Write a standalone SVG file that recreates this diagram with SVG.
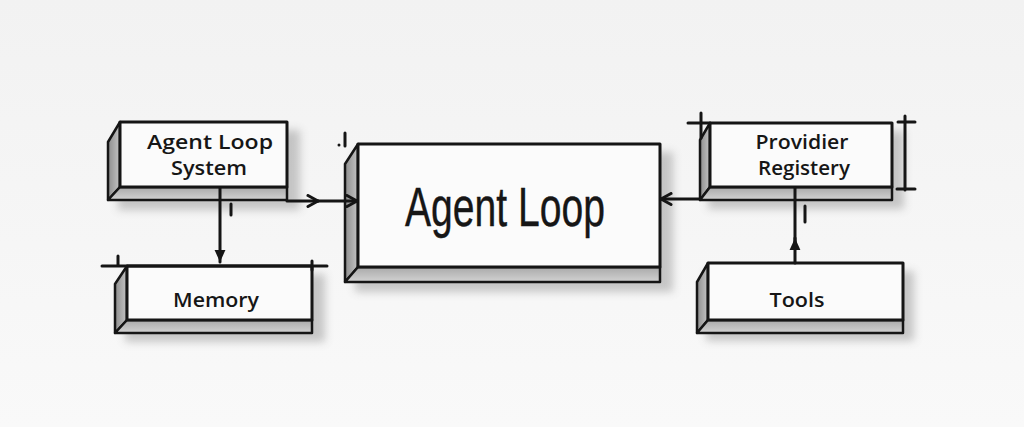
<svg xmlns="http://www.w3.org/2000/svg" width="1024" height="427" viewBox="0 0 1024 427">
<defs>
<style>
.ln{stroke:#151515;stroke-width:3;fill:none;stroke-linecap:round;stroke-linejoin:round}
.face{fill:#fbfbfb;stroke:#151515;stroke-width:3;stroke-linejoin:round}
.side{fill:url(#sideG);stroke:#151515;stroke-width:2.5;stroke-linejoin:round}
.bot{fill:url(#botG);stroke:#151515;stroke-width:2.5;stroke-linejoin:round}
.sh{fill:#8a8a8a;opacity:.45;filter:url(#blur)}
.lbl{font-family:"Open Sans","Liberation Sans",sans-serif;font-weight:600;font-size:19px;fill:#161616;text-anchor:middle}
.big{font-family:"Liberation Sans","DejaVu Sans",sans-serif;font-weight:400;font-size:55px;fill:#161616;stroke:#161616;stroke-width:0.4;text-anchor:middle}
</style>
<linearGradient id="sideG" x1="0" y1="0" x2="1" y2="0"><stop offset="0" stop-color="#8e8e8e"/><stop offset="1" stop-color="#c4c4c4"/></linearGradient>
<linearGradient id="botG" x1="0" y1="0" x2="0" y2="1"><stop offset="0" stop-color="#a9a9a9"/><stop offset="1" stop-color="#d2d2d2"/></linearGradient>
<linearGradient id="bg" x1="0" y1="0" x2="0" y2="1"><stop offset="0" stop-color="#f2f2f2"/><stop offset="1" stop-color="#f9f9f9"/></linearGradient>
<filter id="blur" x="-20%" y="-20%" width="140%" height="140%"><feGaussianBlur stdDeviation="4"/></filter>
<marker id="chev" viewBox="0 0 14 14" refX="12" refY="7" markerWidth="14" markerHeight="14" markerUnits="userSpaceOnUse" orient="auto"><path d="M2,1.5 L12,7 L2,12.5" fill="none" stroke="#151515" stroke-width="3" stroke-linecap="round" stroke-linejoin="round"/></marker>
<marker id="tri" viewBox="0 0 12 12" refX="11" refY="6" markerWidth="13" markerHeight="13" markerUnits="userSpaceOnUse" orient="auto"><path d="M0,1 L11,6 L0,11 Z" fill="#151515"/></marker>
</defs>
<rect width="1024" height="427" fill="url(#bg)"/>

<g id="agent-loop-system">
<rect class="sh" x="118" y="130" width="182" height="80"/>
<polygon class="side" points="120,122 108,142 108,200 120,187"/>
<polygon class="bot" points="120,187 287,187 287,200 108,200"/>
<rect class="face" x="120" y="122" width="167" height="65"/>
<text class="lbl" x="210" y="149" textLength="126" lengthAdjust="spacingAndGlyphs">Agent Loop</text>
<text class="lbl" x="209" y="175" textLength="76" lengthAdjust="spacingAndGlyphs">System</text>
</g>

<g id="memory">
<rect class="sh" x="125" y="274" width="200" height="68"/>
<polygon class="side" points="127,266 115,284 115,333 127,320"/>
<polygon class="bot" points="127,320 312,320 312,333 115,333"/>
<rect class="face" x="127" y="266" width="185" height="54"/>
<path class="ln" d="M102,266 L327,266 M118,256 L118,266 M312,261 L312,270" stroke-width="2.5"/>
<text class="lbl" x="216" y="307" textLength="86" lengthAdjust="spacingAndGlyphs">Memory</text>
</g>

<g id="agent-loop">
<rect class="sh" x="355" y="152" width="318" height="140"/>
<polygon class="side" points="358,144 345,164 345,282 358,267"/>
<polygon class="bot" points="358,267 660,267 660,282 345,282"/>
<rect class="face" x="358" y="144" width="302" height="123"/>
<path class="ln" d="M345,133 L345,146" stroke-width="2"/>
<circle cx="339" cy="145" r="1.5" fill="#151515"/>
<text class="big" x="505" y="226" textLength="200" lengthAdjust="spacingAndGlyphs">Agent Loop</text>
</g>

<g id="provider-registery">
<rect class="sh" x="708" y="131" width="196" height="78"/>
<polygon class="side" points="710,123 700,140 700,200 710,187"/>
<polygon class="bot" points="710,187 892,187 892,200 700,200"/>
<rect class="face" x="710" y="123" width="182" height="64"/>
<path class="ln" d="M688,123 L710,123 M701,113 L701,138 M905,116 L905,190 M898,122 L915,122 M897,189 L915,189" stroke-width="2.5"/>
<text class="lbl" x="802" y="149" textLength="93" lengthAdjust="spacingAndGlyphs">Providier</text>
<text class="lbl" x="804" y="175" textLength="92" lengthAdjust="spacingAndGlyphs">Registery</text>
</g>

<g id="tools">
<rect class="sh" x="706" y="271" width="208" height="70"/>
<polygon class="side" points="708,263 697,282 697,333 708,320"/>
<polygon class="bot" points="708,320 903,320 903,333 697,333"/>
<rect class="face" x="708" y="263" width="195" height="57"/>
<text class="lbl" x="797" y="307" textLength="55" lengthAdjust="spacingAndGlyphs">Tools</text>
</g>

<g id="connectors">
<path class="ln" d="M287,201 L318,201" marker-end="url(#chev)"/>
<path class="ln" d="M318,201 L357,201" marker-end="url(#chev)"/>
<path class="ln" d="M220,188 L220,262" marker-end="url(#tri)"/>
<path class="ln" d="M700,199 L661,199" marker-end="url(#chev)"/>
<path class="ln" d="M795,263 L795,238" marker-end="url(#tri)"/>
<path class="ln" d="M795,245 L795,188"/>
<path class="ln" d="M231,204 L231,215" stroke-width="2"/>
<path class="ln" d="M805,206 L805,222" stroke-width="2"/>
</g>
</svg>
